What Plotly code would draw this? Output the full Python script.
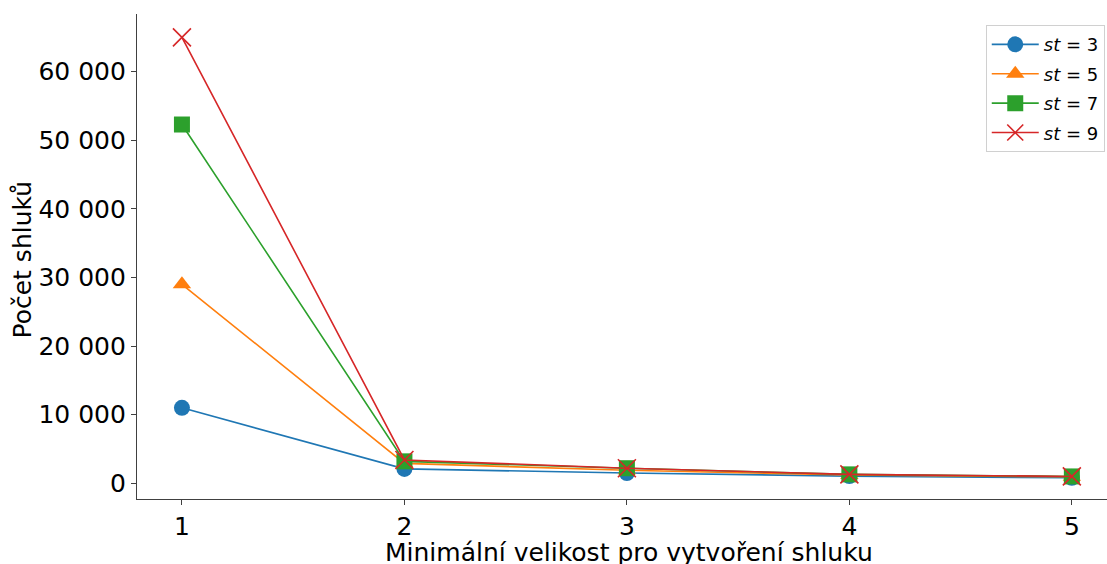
import plotly.graph_objects as go

# Minimální velikost shluku (osa x)
min_size = [1, 2, 3, 4, 5]

# Počet shluků pro jednotlivé hodnoty st
st3 = [11000, 2100, 1500, 1050, 800]
st5 = [29000, 2900, 1900, 1200, 950]
st7 = [52300, 3200, 2200, 1300, 1000]
st9 = [65000, 3400, 2200, 1300, 1000]

series_names = ["<i>st</i> = 3", "<i>st</i> = 5", "<i>st</i> = 7", "<i>st</i> = 9"]
colors = ["#1f77b4", "#ff7f0e", "#2ca02c", "#d62728"]
symbols = ["circle", "triangle-up", "square", "x-thin"]

y_tick_vals = [0, 10000, 20000, 30000, 40000, 50000, 60000]
y_tick_text = ["0", "10 000", "20 000", "30 000", "40 000", "50 000", "60 000"]

x_title = "Minimální velikost pro vytvoření shluku"
y_title = "Počet shluků"

fig = go.Figure()
for i, (name, vals, col, sym) in enumerate(zip(series_names, [st3, st5, st7, st9], colors, symbols)):
    marker = dict(symbol=sym, size=16, color=col)
    if sym == "x-thin":
        marker.update(size=18, line=dict(color=col, width=1.6))
    else:
        marker.update(line=dict(width=0))
    fig.add_trace(go.Scatter(
        x=min_size, y=vals, name=name, mode="lines+markers",
        legendgroup=f"g{i}",
        line=dict(color=col, width=1.6), marker=marker,
    ))

axis_color = "#404040"
fig.update_layout(
    width=1107, height=564,
    margin=dict(l=137, r=0, t=14, b=65),
    plot_bgcolor="white", paper_bgcolor="white",
    font=dict(family="DejaVu Sans", color="black"),
    showlegend=True,
    legend=dict(
        x=0.875, y=0.977, xanchor="left", yanchor="top",
        bgcolor="white", bordercolor="#d0d0d0", borderwidth=1,
        font=dict(size=18, family="DejaVu Sans"),
        tracegroupgap=3, itemwidth=47,
    ),
    annotations=[
        dict(text=x_title, xref="paper", yref="paper", x=0.5077, y=0,
             xanchor="center", yanchor="middle", yshift=-53, showarrow=False,
             font=dict(size=25)),
        dict(text=y_title, xref="paper", yref="paper", x=0, y=0.5,
             xanchor="center", yanchor="middle", xshift=-115, yshift=-3,
             textangle=-90, showarrow=False, font=dict(size=25)),
    ],
)
fig.update_xaxes(
    range=[0.798, 5.158], tickvals=min_size, ticktext=[str(v) for v in min_size],
    showgrid=False, zeroline=False, showline=True, linecolor=axis_color, linewidth=1.2,
    ticks="outside", ticklen=5, tickcolor=axis_color, tickwidth=1,
    tickfont=dict(size=25),
)
fig.update_yaxes(
    range=[-2290, 68410], tickvals=y_tick_vals, ticktext=y_tick_text,
    showgrid=False, zeroline=False, showline=True, linecolor=axis_color, linewidth=1.2,
    ticks="outside", ticklen=5, tickcolor=axis_color, tickwidth=1,
    tickfont=dict(size=25),
)

fig.write_html("out.html")
